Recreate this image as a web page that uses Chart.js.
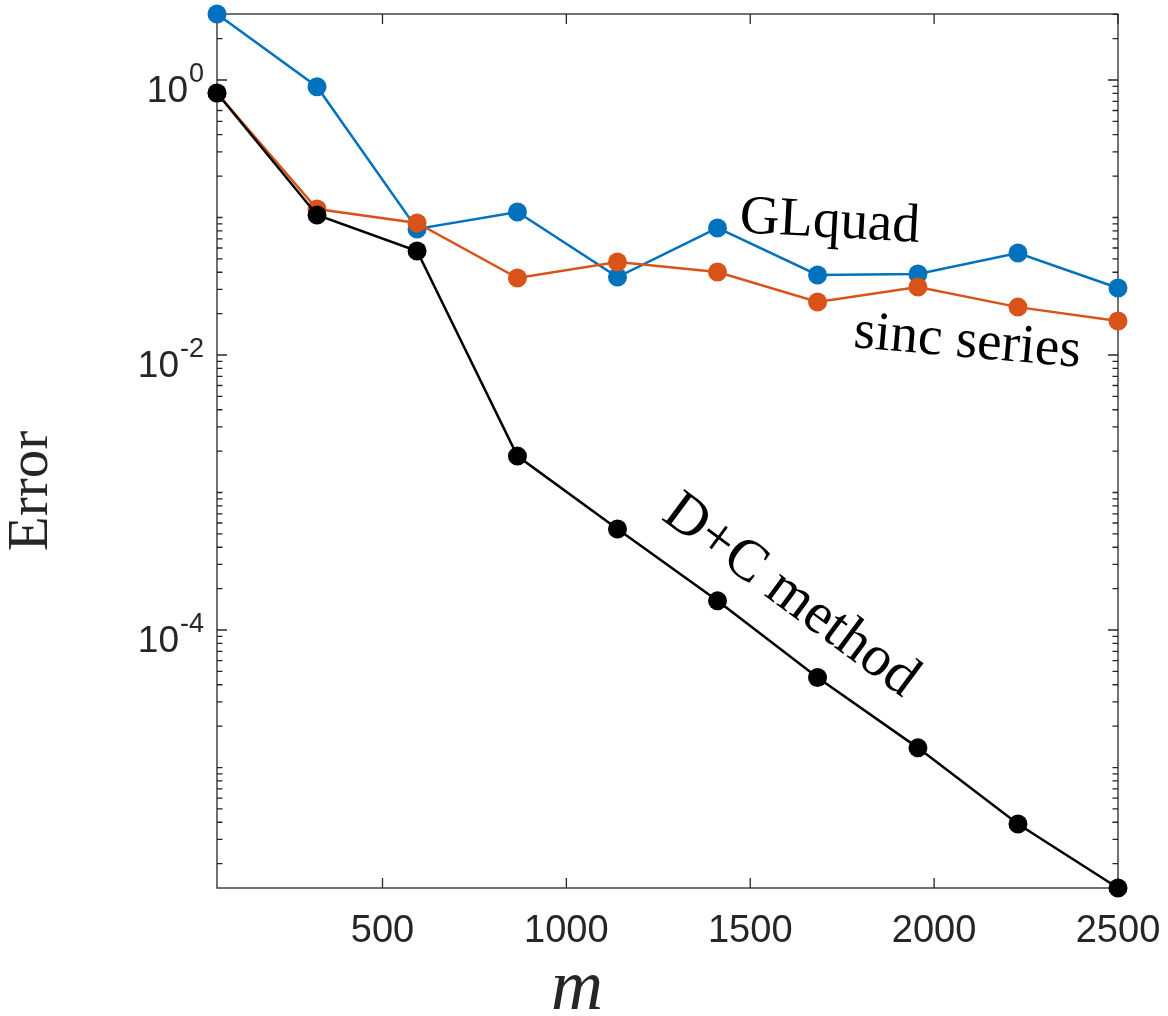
<!DOCTYPE html>
<html>
<head>
<meta charset="utf-8">
<script src="https://cdn.jsdelivr.net/npm/chart.js@4.4.0/dist/chart.umd.min.js"></script>
<style>
  html, body { margin: 0; padding: 0; background: #fff; }
  #wrap { width: 1168px; height: 1016px; }
</style>
</head>
<body>
<div id="wrap"><canvas id="errChart" width="1168" height="1016"></canvas></div>
<script>
// m values (x) and error for each method
var mValues   = [50, 322, 594, 867, 1139, 1411, 1683, 1956, 2228, 2500];
var glquadErr = [3.02, 0.894, 0.0825, 0.1096, 0.0369, 0.0839, 0.0382, 0.0388, 0.0552, 0.0307];
var sincErr   = [0.804, 0.1153, 0.0912, 0.0363, 0.0475, 0.0402, 0.0243, 0.0312, 0.0223, 0.0177];
var dcErr     = [0.804, 0.1043, 0.0571, 0.00184, 5.43e-4, 1.63e-4, 4.52e-5, 1.39e-5, 3.88e-6, 1.33e-6];

var seriesNames = ['GLquad', 'sinc series', 'D+C method'];
var xTickValues = [500, 1000, 1500, 2000, 2500];
var yLabelExps  = [0, -2, -4];

var axisColor = '#262626';
var sansFont = '"Liberation Sans", Arial, sans-serif';
var serifFont = '"Liberation Serif", "Times New Roman", serif';

function toPoints(ys) {
  return mValues.map(function(m, i) { return { x: m, y: ys[i] }; });
}

function makeSet(label, ys, color) {
  return {
    label: label,
    data: toPoints(ys),
    borderColor: color,
    backgroundColor: color,
    pointBackgroundColor: color,
    pointBorderWidth: 0,
    pointRadius: 9.5,
    borderWidth: 2.5,
    lineTension: 0,
    fill: false,
    clip: false
  };
}

// inward ticks on all four sides, the box, and the 10^n labels
var axisDecor = {
  id: 'axisDecor',
  beforeDatasetsDraw: function(chart) {
    var ctx = chart.ctx, a = chart.chartArea;
    var xs = chart.scales.x, ys = chart.scales.y;
    ctx.save();
    ctx.strokeStyle = axisColor;
    ctx.lineWidth = 1.3;
    ctx.strokeRect(a.left, a.top, a.right - a.left, a.bottom - a.top);
    ctx.beginPath();
    xTickValues.forEach(function(v) {
      var px = xs.getPixelForValue(v);
      ctx.moveTo(px, a.bottom); ctx.lineTo(px, a.bottom - 10);
      ctx.moveTo(px, a.top); ctx.lineTo(px, a.top + 10);
    });
    for (var k = -7; k <= 1; k++) {
      for (var d = 1; d <= 9; d++) {
        var v = d * Math.pow(10, k);
        if (v < ys.min || v > ys.max) continue;
        var len = (d === 1 && yLabelExps.indexOf(k) >= 0) ? 10 : 5.5;
        var py = ys.getPixelForValue(v);
        ctx.moveTo(a.left, py); ctx.lineTo(a.left + len, py);
        ctx.moveTo(a.right, py); ctx.lineTo(a.right - len, py);
      }
    }
    ctx.stroke();

    ctx.fillStyle = axisColor;
    ctx.textAlign = 'right';
    ctx.textBaseline = 'alphabetic';
    yLabelExps.forEach(function(e) {
      var py = ys.getPixelForValue(Math.pow(10, e));
      var right = a.left - 13;
      ctx.font = '27px ' + sansFont;
      var sup = e === 0 ? '0' : '-' + Math.abs(e);
      var supW = ctx.measureText(sup).width;
      ctx.fillText(sup, right, py + 2);
      ctx.font = '37px ' + sansFont;
      ctx.fillText('10', right - supW - 1, py + 22);
    });
    ctx.restore();
  },
  afterDraw: function(chart) {
    var ctx = chart.ctx;
    var xs = chart.scales.x, ys = chart.scales.y;
    ctx.save();
    ctx.fillStyle = '#000';
    ctx.textAlign = 'center';

    function label(text, xv, yv, deg, base, size) {
      ctx.save();
      ctx.font = size + 'px ' + serifFont;
      ctx.translate(xs.getPixelForValue(xv), ys.getPixelForValue(yv));
      ctx.rotate(deg * Math.PI / 180);
      ctx.textBaseline = base;
      ctx.fillText(text, 0, 0);
      ctx.restore();
    }
    label(seriesNames[0], 1714, 0.0721, 3.1, 'alphabetic', 55);
    label(seriesNames[1], 2087, 0.00967, 5, 'alphabetic', 55);
    label(seriesNames[2], 1610, 1.77e-4, 36.5, 'middle', 58);

    // axis titles
    ctx.fillStyle = axisColor;
    ctx.save();
    ctx.translate(47, 491);
    ctx.rotate(-Math.PI / 2);
    ctx.textBaseline = 'alphabetic';
    ctx.font = '57px ' + serifFont;
    ctx.fillText('Error', 0, 0);
    ctx.restore();

    ctx.font = 'italic 72px ' + serifFont;
    ctx.textBaseline = 'alphabetic';
    ctx.fillText('m', 577, 1009);
    ctx.restore();
  }
};

var errorChart;

document.addEventListener('DOMContentLoaded', function() {
  var context = document.getElementById('errChart').getContext('2d');
  errorChart = new Chart(context, {
    type: 'line',
    data: {
      datasets: [
        makeSet(seriesNames[2], dcErr, '#000000'),
        makeSet(seriesNames[1], sincErr, '#D95319'),
        makeSet(seriesNames[0], glquadErr, '#0072BD')
      ]
    },
    options: {
      responsive: false,
      animation: false,
      devicePixelRatio: 1,
      layout: { padding: { top: 14, right: 50, left: 0, bottom: 0 } },
      plugins: {
        legend: { display: false },
        tooltip: { enabled: false }
      },
      scales: {
        x: {
          type: 'linear',
          position: 'bottom',
          min: 50,
          max: 2500,
          grid: { display: false, drawTicks: false },
          border: { display: false },
          afterBuildTicks: function(scale) {
            scale.ticks = xTickValues.map(function(v) { return { value: v }; });
          },
          afterFit: function(scale) {
            scale.height = 128;
            scale.paddingLeft = 0;
            scale.paddingRight = 0;
          },
          ticks: {
            color: axisColor,
            padding: 21,
            maxRotation: 0,
            autoSkip: false,
            font: { family: sansFont, size: 38 },
            callback: function(v) { return String(v); }
          }
        },
        y: {
          type: 'logarithmic',
          position: 'left',
          min: 1.33e-6,
          max: 3.02,
          grid: { display: false, drawTicks: false },
          border: { display: false },
          ticks: { display: false },
          afterFit: function(scale) { scale.width = 217; }
        }
      }
    },
    plugins: [axisDecor]
  });
});
</script>
</body>
</html>
